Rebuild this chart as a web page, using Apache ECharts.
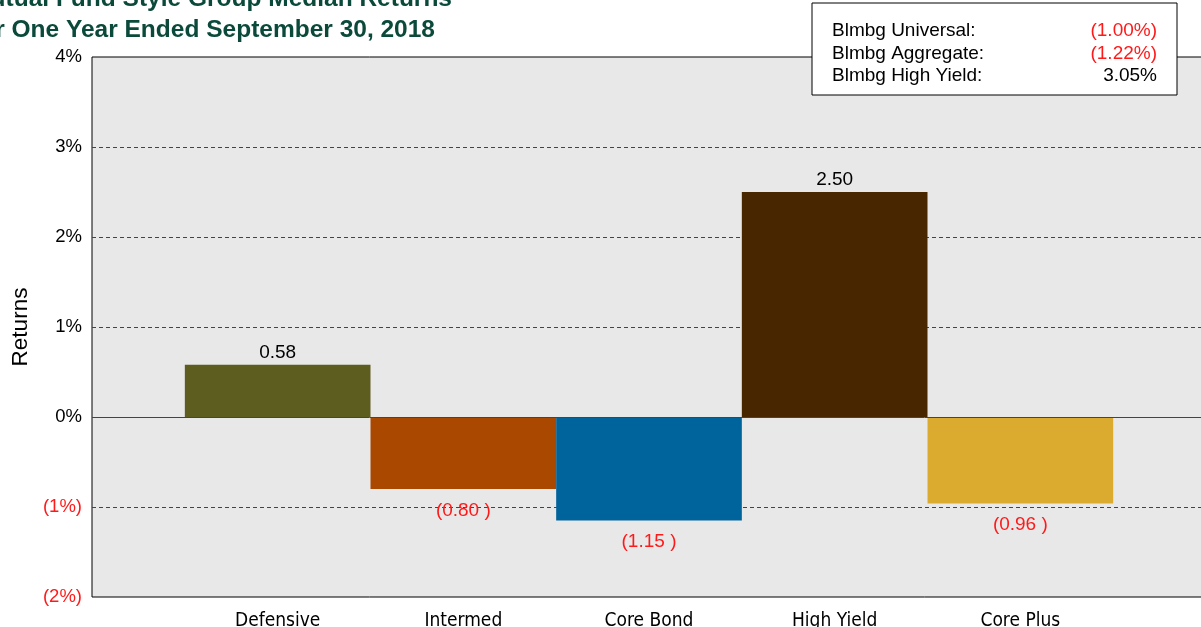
<!DOCTYPE html>
<html>
<head>
<meta charset="utf-8">
<script src="https://cdn.jsdelivr.net/npm/echarts@6/dist/echarts.min.js"></script>
<style>
  html, body { margin: 0; padding: 0; background: #fff; }
  #chart { width: 1201px; height: 627px; }
</style>
</head>
<body>
<div id="chart"></div>
<script>
var categories = ['Defensive', 'Intermed', 'Core Bond', 'High Yield', 'Core Plus']
var returns = [0.58, -0.80, -1.15, 2.50, -0.96]
var barColors = ['#5e5d20', '#ab4800', '#00649c', '#472600', '#dbab30']
var yTicks = { min: -2, max: 4, step: 1 }
var indexNames = ['Blmbg Universal:', 'Blmbg Aggregate:', 'Blmbg High Yield:']
var indexValues = [-1.00, -1.22, 3.05]
var titleLines = ['Mutual Fund Style Group Median Returns', 'for One Year Ended September 30, 2018']

var RED = '#ff1a1a'
var font = 'Arial, "Liberation Sans", sans-serif'

function fmtPct(v, d) {
    var s = Math.abs(v).toFixed(d) + '%'
    return v < 0 ? '(' + s + ')' : s
}

// empty slot each side, so bars sit one band in from the plot edges
var xData = [''].concat(categories, [''])
var barData = [null]
returns.forEach(function (v, i) {
    var neg = v < 0
    barData.push({
        value: v,
        itemStyle: { color: barColors[i] },
        label: {
            position: neg ? 'bottom' : 'top',
            distance: neg ? 12 : 3,
            color: neg ? RED : '#000',
            formatter: neg ? '(' + Math.abs(v).toFixed(2) + ' )' : v.toFixed(2)
        }
    })
})
barData.push(null)

var graphics = [
    { type: 'text', right: 1201 - 452, top: -13, style: { text: titleLines[0], font: 'bold 24.5px ' + font, fill: '#0b4a3b' } },
    { type: 'text', right: 1201 - 435, top: 18, style: { text: titleLines[1], font: 'bold 24.5px ' + font, fill: '#0b4a3b' } },
    { type: 'rect', shape: { x: 812, y: 3, width: 365, height: 92 }, style: { fill: '#fff', stroke: '#000', lineWidth: 1 }, z: 10 }
]
indexNames.forEach(function (n, i) {
    var y = 31 + i * 22.5
    graphics.push({ type: 'text', x: 832, y: y, z: 11, style: { text: n, font: '19px ' + font, fill: '#000', textVerticalAlign: 'middle' } })
    graphics.push({ type: 'text', x: 1157, y: y, z: 11, style: { text: fmtPct(indexValues[i], 2), font: '19px ' + font, fill: indexValues[i] < 0 ? RED : '#000', textAlign: 'right', textVerticalAlign: 'middle' } })
})

var option = {
    animation: false,
    backgroundColor: '#fff',
    grid: {
        left: 92, top: 57, bottom: 30, width: 1114,
        outerBoundsMode: 'none',
        show: true, backgroundColor: '#e8e8e8', borderColor: '#000', borderWidth: 1
    },
    xAxis: {
        type: 'category',
        data: xData,
        boundaryGap: false,
        axisLine: { show: false },
        axisTick: { show: false },
        axisLabel: {
            interval: 0, margin: 15, fontSize: 19, color: '#000',
            fontFamily: '"Liberation Sans Narrow", "DejaVu Sans Condensed", sans-serif'
        },
        splitLine: { show: false }
    },
    yAxis: {
        type: 'value',
        min: yTicks.min, max: yTicks.max, interval: yTicks.step,
        name: 'Returns',
        nameLocation: 'middle',
        nameGap: 56,
        nameTextStyle: { fontSize: 22.5, color: '#000', fontFamily: font },
        axisLine: { show: false },
        axisTick: { show: false },
        axisLabel: {
            margin: 10, fontSize: 18.5, fontFamily: font,
            formatter: function (v) { return fmtPct(v, 0) },
            color: function (v) { return Number(v) < 0 ? RED : '#000' }
        },
        splitLine: {
            show: true, showMinLine: false, showMaxLine: false,
            lineStyle: { type: [4, 3], color: '#444', width: 1 }
        }
    },
    series: [{
        type: 'bar',
        data: barData,
        barWidth: '100%',
        label: { show: true, fontSize: 19, fontFamily: font },
        markLine: {
            silent: true, symbol: 'none', label: { show: false },
            lineStyle: { type: 'solid', color: '#444', width: 1 },
            data: [{ yAxis: 0 }]
        }
    }],
    graphic: graphics
}

var myChart = echarts.init(document.getElementById('chart'))
myChart.setOption(option)
</script>
</body>
</html>
